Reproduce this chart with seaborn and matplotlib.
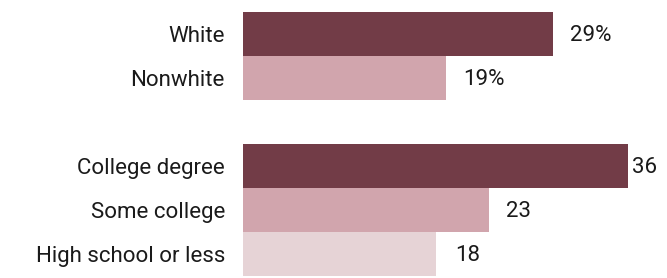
import matplotlib
matplotlib.use('Agg')
import matplotlib.pyplot as plt
import seaborn as sns
import pandas as pd

# Data
categories = ["White", "Nonwhite", "College degree", "Some college", "High school or less"]
values = [29, 19, 36, 23, 18]
value_labels = ["29%", "19%", "36", "23", "18"]
# blank slot separates the two groups
order = ["White", "Nonwhite", "", "College degree", "Some college", "High school or less"]

colors = {
    "White": "#723c47",
    "Nonwhite": "#d1a5ad",
    "College degree": "#723c47",
    "Some college": "#d1a5ad",
    "High school or less": "#e6d3d6",
}

df = pd.DataFrame({"category": categories, "value": values})

sns.set_style("white")
plt.rcParams['font.family'] = ['Roboto', 'DejaVu Sans']

fig = plt.figure(figsize=(6.67, 2.78), dpi=100)
ax = fig.add_axes([243 / 667, 2 / 278, 385 / 667, 264 / 278])

sns.barplot(data=df, x="value", y="category", hue="category", order=order,
            palette=colors, width=1.0, legend=False, ax=ax, saturation=1,
            errorbar=None, linewidth=0)

ax.set_xlim(0, 36)
ax.set_ylim(5.5, -0.5)
ax.set_xlabel("")
ax.set_ylabel("")
ax.set_xticks([])
ax.tick_params(axis="y", length=0, pad=13, labelsize=16, labelcolor="#1a1a1a")
for s in ax.spines.values():
    s.set_visible(False)

# value labels next to each bar
offsets = [12, 12, 3, 12, 14]
for cat, v, lab, off in zip(categories, values, value_labels, offsets):
    y = order.index(cat)
    ax.annotate(lab, xy=(v, y), xytext=(off, -1), textcoords="offset points",
                va="center", ha="left", fontsize=16, color="#1a1a1a",
                annotation_clip=False)

fig.savefig("out.png", dpi=100)
